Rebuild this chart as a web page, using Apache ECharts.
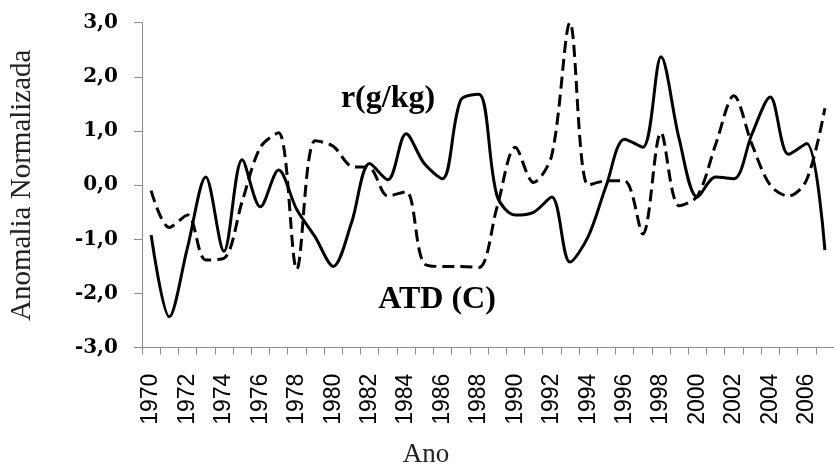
<!DOCTYPE html>
<html>
<head>
<meta charset="utf-8">
<script src="https://cdn.jsdelivr.net/npm/echarts@6/dist/echarts.min.js"></script>
<style>html,body{margin:0;padding:0;background:#fff;}#c{width:834px;height:465px;}</style>
</head>
<body>
<div id="c"></div>
<script>
var years = [];
for (var y = 1970; y <= 2007; y++) years.push(String(y));

var rGkg = [-0.92,-2.43,-1.15,0.15,-1.22,0.47,-0.40,0.28,-0.45,-0.95,
            -1.50,-0.70,0.40,0.10,0.95,0.40,0.12,1.57,1.68,-0.20,
            -0.55,-0.50,-0.22,-1.42,-0.95,0.00,0.85,0.70,2.37,0.85,
            -0.22,0.15,0.12,0.95,1.63,0.57,0.77,-1.20];

var atdC = [-0.10,-0.78,-0.55,-1.38,-1.35,-0.30,0.70,0.97,-1.55,0.82,
            0.72,0.35,0.32,-0.20,-0.12,-1.45,-1.50,-1.50,-1.52,-0.40,
            0.70,0.05,0.55,3.00,0.00,0.08,0.08,-0.90,0.97,-0.38,
            -0.20,0.75,1.65,0.75,0.00,-0.20,0.10,1.42];

var yTicks = [-3, -2, -1, 0, 1, 2, 3];

var chart = echarts.init(document.getElementById('c'), null, {renderer: 'canvas'});
chart.setOption({
  animation: false,
  backgroundColor: '#ffffff',
  grid: {left: 127, top: 22.7, width: 711, height: 325, containLabel: false},
  xAxis: {
    type: 'category',
    data: years,
    boundaryGap: true,
    axisLine: {onZero: false, lineStyle: {color: '#8c8c8c', width: 1}},
    axisTick: {show: true, interval: 0, length: 7, lineStyle: {color: '#8c8c8c'}},
    axisLabel: {interval: 1, rotate: 90, margin: 26, color: '#000',
      fontFamily: 'Liberation Sans', fontSize: 23},
    splitLine: {show: false}
  },
  yAxis: {
    type: 'value',
    min: yTicks[0], max: yTicks[yTicks.length - 1], interval: 1,
    name: 'Anomalia Normalizada',
    nameLocation: 'middle',
    nameRotate: 90,
    nameGap: 105,
    nameTextStyle: {fontFamily: 'Liberation Serif', fontSize: 29, color: '#222'},
    axisLine: {show: true, lineStyle: {color: '#8c8c8c', width: 1}},
    axisTick: {show: true, length: 8, lineStyle: {color: '#8c8c8c'}},
    axisLabel: {margin: 24, color: '#000', fontFamily: 'DejaVu Serif', fontWeight: 'bold', fontSize: 20,
      formatter: function (v) { return v.toFixed(1).replace('.', ','); }},
    splitLine: {show: false}
  },
  series: [
    {name: 'r(g/kg)', type: 'line', data: rGkg, smooth: 0.32, symbol: 'none',
      lineStyle: {color: '#000', width: 3}},
    {name: 'ATD (C)', type: 'line', data: atdC, smooth: 0.32, symbol: 'none',
      lineStyle: {color: '#000', width: 3, type: [12, 6]}}
  ],
  graphic: [
    {type: 'text', x: 388, y: 99, style: {text: 'r(g/kg)', fill: '#000',
      font: 'bold 32px "Liberation Serif"', textAlign: 'center', textVerticalAlign: 'middle'}},
    {type: 'text', x: 437, y: 300, style: {text: 'ATD (C)', fill: '#000',
      font: 'bold 32px "Liberation Serif"', textAlign: 'center', textVerticalAlign: 'middle'}},
    {type: 'text', x: 426, y: 455, style: {text: 'Ano', fill: '#222',
      font: '27px "Liberation Serif"', textAlign: 'center', textVerticalAlign: 'middle'}}
  ]
});
</script>
</body>
</html>
